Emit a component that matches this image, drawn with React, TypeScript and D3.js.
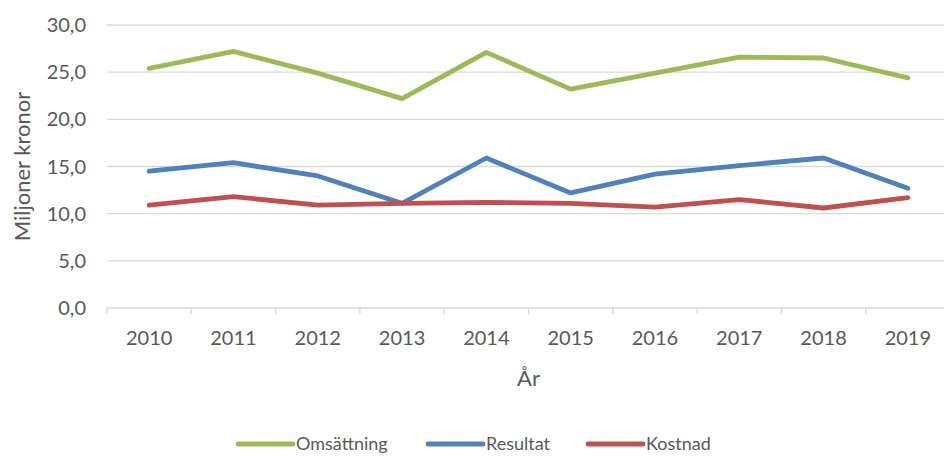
import React, { useEffect, useRef } from 'react';
import * as d3 from 'd3';

// data (miljoner kronor)
const years = ['2010', '2011', '2012', '2013', '2014', '2015', '2016', '2017', '2018', '2019'];
const omsattning = [25.4, 27.2, 24.9, 22.2, 27.1, 23.2, 24.9, 26.6, 26.5, 24.4];
const resultat = [14.5, 15.4, 14.0, 11.1, 15.9, 12.2, 14.2, 15.1, 15.9, 12.7];
const kostnad = [10.9, 11.8, 10.9, 11.1, 11.2, 11.1, 10.7, 11.5, 10.6, 11.7];
const yTicks = [0, 5, 10, 15, 20, 25, 30];

const seriesNames = ['Omsättning', 'Resultat', 'Kostnad'];
const seriesColors = ['#9BBB59', '#4F81BD', '#C0504D'];

const FONT = 'Lato, "Open Sans", sans-serif';

function App() {
  const ref = useRef<SVGSVGElement>(null);

  useEffect(() => {
    const svg = d3.select(ref.current);
    svg.selectAll('*').remove();

    const left = 107, right = 950, top = 25, bottom = 308;

    const x = d3.scaleBand().domain(years).range([left, right]);
    const y = d3.scaleLinear().domain([0, 30]).range([bottom, top]);
    const fmt = (v: number) => d3.format('.1f')(v).replace('.', ',');

    // gridlines
    svg.append('g')
      .selectAll('line')
      .data(yTicks.filter(t => t > 0))
      .enter()
      .append('line')
      .attr('x1', left).attr('x2', right)
      .attr('y1', d => y(d)).attr('y2', d => y(d))
      .attr('stroke', '#D9D9D9')
      .attr('stroke-width', 1.3);

    // y axis labels
    svg.append('g')
      .selectAll('text')
      .data(yTicks)
      .enter()
      .append('text')
      .attr('x', 86)
      .attr('y', d => y(d))
      .attr('dy', '0.35em')
      .attr('text-anchor', 'end')
      .attr('fill', '#595959')
      .style('font-family', FONT)
      .style('font-size', '20px')
      .text(d => fmt(d));

    // x axis line + ticks
    const xAxis = svg.append('g').attr('transform', `translate(0,${bottom})`);
    xAxis.append('line')
      .attr('x1', left).attr('x2', right)
      .attr('stroke', '#D9D9D9').attr('stroke-width', 1.3);
    xAxis.selectAll('.tk')
      .data(years)
      .enter()
      .append('line')
      .attr('x1', d => x(d)!).attr('x2', d => x(d)!)
      .attr('y1', 0).attr('y2', 6)
      .attr('stroke', '#D9D9D9').attr('stroke-width', 1.3);
    xAxis.selectAll('text')
      .data(years)
      .enter()
      .append('text')
      .attr('x', d => x(d)! + x.bandwidth() / 2)
      .attr('y', 30)
      .attr('dy', '0.35em')
      .attr('text-anchor', 'middle')
      .attr('fill', '#595959')
      .style('font-family', FONT)
      .style('font-size', '20px')
      .text(d => d);

    // axis titles
    svg.append('text')
      .attr('x', (left + right) / 2)
      .attr('y', 378)
      .attr('dy', '0.35em')
      .attr('text-anchor', 'middle')
      .attr('fill', '#595959')
      .style('font-family', FONT)
      .style('font-size', '22px')
      .text('År');
    svg.append('text')
      .attr('transform', `translate(22,${(top + bottom) / 2}) rotate(-90)`)
      .attr('dy', '0.35em')
      .attr('text-anchor', 'middle')
      .attr('fill', '#595959')
      .style('font-family', FONT)
      .style('font-size', '22px')
      .text('Miljoner kronor');

    // lines
    const line = d3.line<number>()
      .x((d, i) => x(years[i])! + x.bandwidth() / 2)
      .y(d => y(d));
    [omsattning, resultat, kostnad].forEach((vals, i) => {
      svg.append('path')
        .datum(vals)
        .attr('d', line)
        .attr('fill', 'none')
        .attr('stroke', seriesColors[i])
        .attr('stroke-width', 4.8)
        .attr('stroke-linecap', 'round')
        .attr('stroke-linejoin', 'round');
    });

    // legend
    const legendX = [238, 428, 588];
    const legend = svg.append('g').attr('transform', 'translate(0,444)');
    seriesNames.forEach((name, i) => {
      legend.append('line')
        .attr('x1', legendX[i]).attr('x2', legendX[i] + 55)
        .attr('stroke', seriesColors[i])
        .attr('stroke-width', 4.8)
        .attr('stroke-linecap', 'round');
      legend.append('text')
        .attr('x', legendX[i] + 58)
        .attr('dy', '0.35em')
        .attr('fill', '#595959')
        .style('font-family', FONT)
        .style('font-size', '18px')
        .text(name);
    });
  }, []);

  return (
    <svg ref={ref} width={944} height={456}
      style={{ position: 'absolute', left: 0, top: 0, background: '#fff' }} />
  );
}

export default App;
